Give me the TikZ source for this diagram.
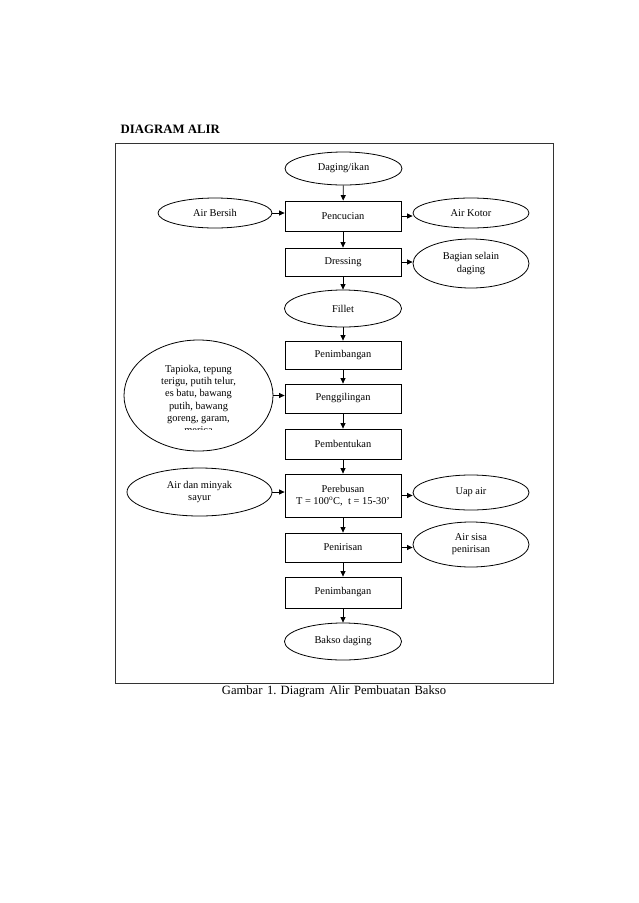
\documentclass[tikz,border=0pt]{standalone}
\usepackage{fontspec}
\setmainfont{Liberation Serif}
\usetikzlibrary{shapes.geometric,arrows.meta}
\begin{document}
\begin{tikzpicture}[x=1pt,y=-1pt,
  every node/.style={font=\fontsize{10.4}{12.3}\selectfont, inner sep=0pt},
  stepbox/.style={draw, line width=0.8pt, minimum width=116pt, align=center},
  oval/.style={draw, ellipse, line width=0.8pt, align=center},
  flow/.style={-{Triangle[length=5.5pt,width=5pt]}, line width=0.8pt}]
\useasboundingbox (0,0) rectangle (638,903);
% title and frame
\node[anchor=west, font=\fontsize{12.8}{14}\selectfont\bfseries] (title) at (120.5,129) {DIAGRAM ALIR};
\draw[line width=0.9pt, draw=black!80] (115,143) rectangle (553,683);
% main column
\node[oval, minimum width=117pt, minimum height=33pt] (daging) at (343.5,168.5) {Daging/ikan};
\node[stepbox, minimum height=30pt] (pencucian) at (343,216) {Pencucian};
\node[stepbox, minimum height=28pt] (dressing) at (343,262) {Dressing};
\node[oval, minimum width=117pt, minimum height=37pt] (fillet) at (343,308.5) {Fillet};
\node[stepbox, minimum height=28pt] (penimb1) at (343,355) {Penimbangan};
\node[stepbox, minimum height=29pt] (penggil) at (343,398.5) {Penggilingan};
\node[stepbox, minimum height=30pt] (pembent) at (343,444) {Pembentukan};
\node[stepbox, minimum height=43pt] (perebusan) at (343,495.5) {Perebusan\\T = 100\textsuperscript{o}C,\; t = 15-30’};
\node[stepbox, minimum height=29pt] (penirisan) at (343,547.5) {Penirisan};
\node[stepbox, minimum height=31pt] (penimb2) at (343,592.5) {Penimbangan};
\node[oval, minimum width=117pt, minimum height=37pt] (bakso) at (343,641.5) {Bakso daging};
% side inputs
\node[oval, minimum width=114pt, minimum height=30pt] (airbersih) at (215,213) {Air Bersih};
\node[oval, minimum width=149pt, minimum height=111pt] (tapioka) at (198.5,395.5) {};
\begin{scope}
\clip (120,350) rectangle (280,429);
\node[align=center] (tapiokatext) at (198.5,399.5) {Tapioka, tepung\\terigu, putih telur,\\es batu, bawang\\putih, bawang\\goreng, garam,\\merica};
\end{scope}
\node[oval, minimum width=145pt, minimum height=48pt] (airminyak) at (199.5,492) {Air dan minyak\\sayur};
% side outputs
\node[oval, minimum width=116pt, minimum height=30pt] (airkotor) at (471,213) {Air Kotor};
\node[oval, minimum width=116pt, minimum height=49pt] (bagian) at (471,263.5) {Bagian selain\\daging};
\node[oval, minimum width=116pt, minimum height=35pt] (uapair) at (471,492.5) {Uap air};
\node[oval, minimum width=116pt, minimum height=45pt] (airsisa) at (471,544.5) {Air sisa\\penirisan};
% caption
\node[font=\fontsize{12.6}{14}\selectfont] (caption) at (334,691) {Gambar\hspace{4.5pt}1. Diagram\hspace{4.5pt}Alir\hspace{4.5pt}Pembuatan\hspace{4.5pt}Bakso};
% vertical flow
\draw[flow] (daging) -- (pencucian);
\draw[flow] (pencucian) -- (dressing);
\draw[flow] (dressing) -- (fillet);
\draw[flow] (fillet) -- (penimb1);
\draw[flow] (penimb1) -- (penggil);
\draw[flow] (penggil) -- (pembent);
\draw[flow] (pembent) -- (perebusan);
\draw[flow] (perebusan) -- (penirisan);
\draw[flow] (penirisan) -- (penimb2);
\draw[flow] (penimb2) -- (bakso);
% horizontal flow
\draw[flow] (airbersih.east) -- (airbersih.east -| pencucian.west);
\draw[flow] (pencucian.east) -- (pencucian.east -| airkotor.west);
\draw[flow] (dressing.east) -- (dressing.east -| bagian.west);
\draw[flow] (tapioka.east) -- (tapioka.east -| penggil.west);
\draw[flow] (airminyak.east) -- (airminyak.east -| perebusan.west);
\draw[flow] (perebusan.east) -- (perebusan.east -| uapair.west);
\draw[flow] (penirisan.east) -- (penirisan.east -| airsisa.west);
\end{tikzpicture}
\end{document}
